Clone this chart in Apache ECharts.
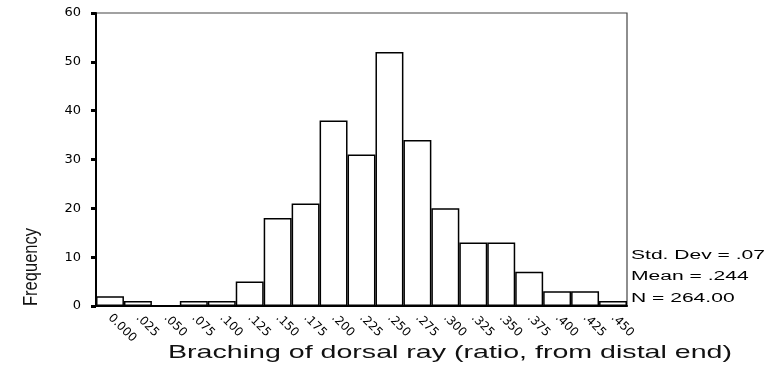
<!DOCTYPE html>
<html><head><meta charset="utf-8">
<script src="https://cdn.jsdelivr.net/npm/echarts@6/dist/echarts.min.js"></script>
<style>html,body{margin:0;padding:0;background:#fff}#c{width:770px;height:369px}</style>
</head><body><div id="c"></div>
<script>
const categories = ['0.000','.025','.050','.075','.100','.125','.150','.175','.200','.225','.250','.275','.300','.325','.350','.375','.400','.425','.450'];
const frequencies = [2,1,0,1,1,5,18,21,38,31,52,34,20,13,13,7,3,3,1];
const yTicks = [0,10,20,30,40,50,60];
const statsLines = ['Std. Dev = .07','Mean = .244','N = 264.00'];
const xTitle = 'Braching of dorsal ray (ratio, from distal end)';
const yTitle = 'Frequency';

const ctx = document.createElement('canvas').getContext('2d');
function fitScale(text, font, target){ ctx.font = font; return target / ctx.measureText(text).width; }

const sans = 'Liberation Sans';
const dv = 'DejaVu Sans';
const titleScale = fitScale(xTitle, '19px "Liberation Sans"', 564);
const yTitleScale = fitScale(yTitle, '20px "Liberation Sans"', 78);
const statScale = fitScale(statsLines[0], '12.5px "Liberation Sans"', 134);

const chart = echarts.init(document.getElementById('c'), null, {renderer:'canvas'});
chart.setOption({
  animation:false,
  backgroundColor:'#fff',
  grid:{left:96,right:143,top:13,bottom:63,show:true,borderColor:'#444',borderWidth:1.2,backgroundColor:'transparent'},
  xAxis:{type:'category',data:categories,boundaryGap:true,
    axisLine:{lineStyle:{color:'#000',width:2}},
    axisTick:{alignWithLabel:true,length:4,lineStyle:{color:'#000',width:5}},
    axisLabel:{rotate:-45,fontSize:12,fontFamily:dv,color:'#000',margin:10,interval:0}},
  yAxis:{type:'value',min:yTicks[0],max:yTicks[yTicks.length-1],interval:10,
    splitLine:{show:false},
    axisLine:{show:true,lineStyle:{color:'#000',width:2}},
    axisTick:{show:true,length:5,lineStyle:{color:'#000',width:3}},
    axisLabel:{fontSize:13,fontFamily:dv,color:'#000',margin:15}},
  series:[{type:'bar',data:frequencies,barWidth:'100%',barCategoryGap:'0%',
    itemStyle:{color:'#fff',borderColor:'#000',borderWidth:1.5}}],
  graphic:[
    {type:'text',x:168,y:343,scaleX:titleScale,style:{text:xTitle,fontSize:19,fontFamily:sans,fill:'#111'}},
    {type:'text',x:21,y:306,rotation:Math.PI/2,scaleX:yTitleScale,style:{text:yTitle,fontSize:20,fontFamily:sans,fill:'#111'}},
    {type:'text',x:631,y:249.5,scaleX:statScale,style:{text:statsLines[0],fontSize:12.5,fontFamily:sans,fill:'#000'}},
    {type:'text',x:631,y:270.5,scaleX:statScale,style:{text:statsLines[1],fontSize:12.5,fontFamily:sans,fill:'#000'}},
    {type:'text',x:631,y:292,scaleX:statScale,style:{text:statsLines[2],fontSize:12.5,fontFamily:sans,fill:'#000'}}
  ]
});
</script></body></html>
